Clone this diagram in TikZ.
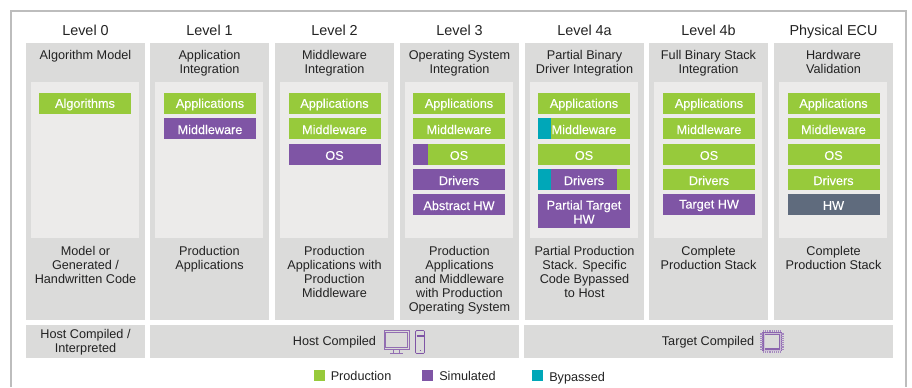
\documentclass[tikz,border=0pt]{standalone}
\usepackage{fontspec}
\setmainfont{Liberation Sans}
\newfontfamily\medfont[FakeBold=0.2]{Liberation Sans}
\definecolor{gprod}{HTML}{97CA3B}
\definecolor{gsim}{HTML}{7F55A5}
\definecolor{gby}{HTML}{00A7B8}
\definecolor{ghw}{HTML}{5F6B7D}
\definecolor{gcol}{HTML}{DBDBDA}
\definecolor{ginner}{HTML}{ECEBEA}
\definecolor{gframe}{HTML}{BDBDBD}
\definecolor{gtext}{HTML}{222222}
\tikzset{
 txt/.style={font=\fontsize{9.5}{10.5}\selectfont,text=gtext,align=center,inner sep=0pt},
 head/.style={font=\fontsize{10.8}{12}\selectfont,text=gtext,inner sep=0pt,anchor=base},
 bartxt/.style={font=\medfont\fontsize{9.5}{10.5}\selectfont,text=white,align=center,inner sep=0pt},
 icon/.style={draw=gsim!85!white,line width=0.45pt,fill=none},
}
\newcommand{\bbar}[5]{% colx, ytop, ybot, colour, text
 \fill[#4] (#1,#2) rectangle (#1+92,#3);
 \node[bartxt] at (#1+46,{(#2+#3)/2+1}) {#5};}
\newcommand{\colm}[4]{% x, head, sub, bottom text
 \fill[gcol] (#1,43) rectangle (#1+119,320);
 \fill[ginner] (#1+5,82) rectangle (#1+113,238);
 \node[head] at (#1+59.5,35.7) {#2};
 \node[txt,anchor=north] at (#1+59.5,50) {#3};
 \node[txt,anchor=north] at (#1+59.5,246) {#4};}
\begin{document}
\begin{tikzpicture}[x=0.75pt,y=-0.75pt]
\useasboundingbox (0,0) rectangle (912,387);
\draw[gframe,line width=1.5pt] (11,387) -- (11,11) -- (906,11) -- (906,387);
\colm{26}{Level 0}{Algorithm Model}{Model or\\Generated /\\Handwritten Code}
\colm{150}{Level 1}{Application\\Integration}{Production\\Applications}
\colm{275}{Level 2}{Middleware\\Integration}{Production\\Applications with\\Production\\Middleware}
\colm{400}{Level 3}{Operating System\\Integration}{Production\\Applications\\and Middleware\\with Production\\Operating System}
\colm{525}{Level 4a}{Partial Binary\\Driver Integration}{Partial Production\\Stack. Specific\\Code Bypassed\\to Host}
\colm{649}{Level 4b}{Full Binary Stack\\Integration}{Complete\\Production Stack}
\colm{774}{Physical ECU}{Hardware\\Validation}{Complete\\Production Stack}
% col0
\bbar{39}{93}{114}{gprod}{Algorithms}
% col1
\bbar{164}{93}{114}{gprod}{Applications}
\bbar{164}{118}{139}{gsim}{Middleware}
% col2
\bbar{288.5}{93}{114}{gprod}{Applications}
\bbar{288.5}{118}{139}{gprod}{Middleware}
\bbar{288.5}{144}{165}{gsim}{OS}
% col3
\bbar{413}{93}{114}{gprod}{Applications}
\bbar{413}{118}{139}{gprod}{Middleware}
\fill[gprod] (413,144) rectangle (505,165);
\fill[gsim] (413,144) rectangle (428,165);
\node[bartxt] at (459,155.5) {OS};
\bbar{413}{169}{190}{gsim}{Drivers}
\bbar{413}{194}{215}{gsim}{Abstract HW}
% col4
\bbar{538}{93}{114}{gprod}{Applications}
\fill[gprod] (538,118) rectangle (630,139);
\fill[gby] (538,118) rectangle (551,139);
\node[bartxt] at (584,129.5) {Middleware};
\bbar{538}{144}{165}{gprod}{OS}
\fill[gsim] (538,169) rectangle (630,190);
\fill[gby] (538,169) rectangle (551,190);
\fill[gprod] (617,169) rectangle (630,190);
\node[bartxt] at (584,180.5) {Drivers};
\bbar{538}{194}{228}{gsim}{Partial Target\\HW}
% col5
\bbar{663}{93}{114}{gprod}{Applications}
\bbar{663}{118}{139}{gprod}{Middleware}
\bbar{663}{144}{165}{gprod}{OS}
\bbar{663}{169}{190}{gprod}{Drivers}
\bbar{663}{194}{215}{gsim}{Target HW}
% col6
\bbar{787.5}{93}{114}{gprod}{Applications}
\bbar{787.5}{118}{139}{gprod}{Middleware}
\bbar{787.5}{144}{165}{gprod}{OS}
\bbar{787.5}{169}{190}{gprod}{Drivers}
\bbar{787.5}{194}{215}{ghw}{HW}
% bottom row
\fill[gcol] (26,325) rectangle (145,358);
\fill[gcol] (150,325) rectangle (519,358);
\fill[gcol] (524,325) rectangle (893,358);
\node[txt] at (85.5,342.3) {Host Compiled /\\Interpreted};
\node[txt] at (334.5,342) {Host Compiled};
\node[txt] at (708,342) {Target Compiled};
% monitor
\draw[icon] (384.2,330.5) rectangle (409,349);
\draw[icon] (385.7,332) rectangle (407.5,347);
\draw[icon] (393.5,349) -- (393.5,352.5) (399.5,349) -- (399.5,352.5);
\draw[icon,line width=0.7pt] (390,353) -- (403,353);
% tower
\draw[icon,draw=gsim,rounded corners=0.8pt] (415.5,330.5) rectangle (424.5,353.5);
\draw[draw=gsim,line width=1pt] (416.5,336) -- (423.5,336);
\draw[icon,draw=gsim] (419.5,350.5) -- (420.8,350.5);
% chip
\draw[gsim!90!white,line width=2pt] (763.8,333.5) rectangle (780.2,349.8);
\draw[ginner!70!gsim,line width=0.4pt] (763.8,333.5) rectangle (780.2,349.8);
\draw[gsim!70!white,line width=1.8pt,dash pattern=on 0.7pt off 0.7pt] (761.5,332.5) -- (761.5,351) (782.5,332.5) -- (782.5,351) (763,331) -- (781,331) (763,352) -- (781,352);
% legend
\fill[gprod] (314,370) rectangle (325,381);
\node[txt,anchor=base west] at (330.5,380) {Production};
\fill[gsim] (422,370) rectangle (433,381);
\node[txt,anchor=base west] at (439,380) {Simulated};
\fill[gby] (532,370) rectangle (543,381);
\node[txt,anchor=base west] at (549,381) {Bypassed};
\end{tikzpicture}
\end{document}
